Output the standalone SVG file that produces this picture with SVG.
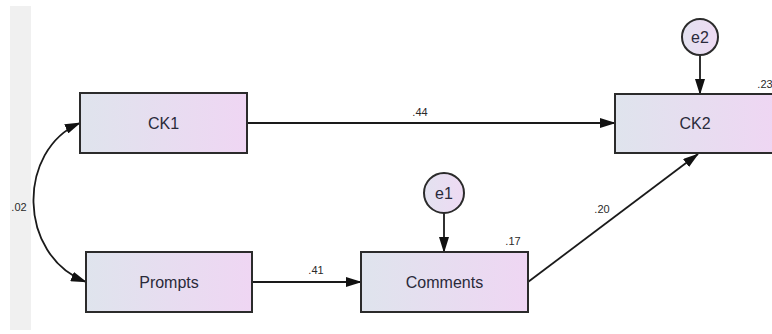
<svg xmlns="http://www.w3.org/2000/svg" width="772" height="334" viewBox="0 0 772 334">
<style>
.box{stroke:#2b2b2b;stroke-width:2;fill:url(#g)}
.circ{stroke:#2b2b2b;stroke-width:2;fill:url(#gc)}
.lbl{font-family:"Liberation Sans",Arial,sans-serif;font-size:16px;fill:#2a2a3a;text-anchor:middle}
.num{font-family:"Liberation Sans",Arial,sans-serif;font-size:11px;fill:#2a2a2a;text-anchor:middle}
.ln{stroke:#1a1a1a;stroke-width:1.8;fill:none}
</style>
<defs>
<linearGradient id="g" x1="0" y1="0" x2="1" y2="0">
<stop offset="0" stop-color="#dfe4ed"/>
<stop offset="1" stop-color="#efd6f3"/>
</linearGradient>
<linearGradient id="gc" x1="0" y1="0" x2="1" y2="0">
<stop offset="0" stop-color="#e3e2f0"/>
<stop offset="1" stop-color="#eedaf3"/>
</linearGradient>
<marker id="ah" markerUnits="userSpaceOnUse" markerWidth="16" markerHeight="10" refX="15" refY="5" orient="auto-start-reverse" viewBox="0 0 16 10">
<path d="M0,0 L16,5 L0,10 Z" fill="#111"/>
</marker>
</defs>
<rect x="0" y="0" width="772" height="334" fill="#ffffff"/>
<rect x="10" y="6" width="21" height="324" fill="#f0f0f0"/>
<g id="connectors">
<path class="ln" d="M247,123 L615,123" marker-end="url(#ah)"/>
<path class="ln" d="M252,282 L361,282" marker-end="url(#ah)"/>
<path class="ln" d="M528,282 L698,154" marker-end="url(#ah)"/>
<path class="ln" d="M444,213 L444,252" marker-end="url(#ah)"/>
<path class="ln" d="M700,55 L700,94" marker-end="url(#ah)"/>
<path class="ln" d="M80,123 C17,150 17,255 86,282" marker-start="url(#ah)" marker-end="url(#ah)"/>
<text class="num" x="420" y="116">.44</text>
<text class="num" x="316" y="274">.41</text>
<text class="num" x="602" y="213">.20</text>
<text class="num" x="19" y="211">.02</text>
</g>
<g id="CK1">
<rect class="box" x="80" y="93" width="167" height="60"/>
<text class="lbl" x="163.5" y="129">CK1</text>
</g>
<g id="Prompts">
<rect class="box" x="86" y="252" width="166" height="60"/>
<text class="lbl" x="169" y="288">Prompts</text>
</g>
<g id="Comments">
<rect class="box" x="361" y="252" width="167" height="60"/>
<text class="lbl" x="444.5" y="288">Comments</text>
<text class="num" x="513" y="245">.17</text>
</g>
<g id="CK2">
<rect class="box" x="615" y="94" width="162" height="59"/>
<text class="lbl" x="695" y="129">CK2</text>
<text class="num" x="765" y="88">.23</text>
</g>
<g id="e1">
<circle class="circ" cx="444" cy="193" r="20"/>
<text class="lbl" x="444" y="199">e1</text>
</g>
<g id="e2">
<circle class="circ" cx="700" cy="37" r="18"/>
<text class="lbl" x="700" y="43">e2</text>
</g>
</svg>
